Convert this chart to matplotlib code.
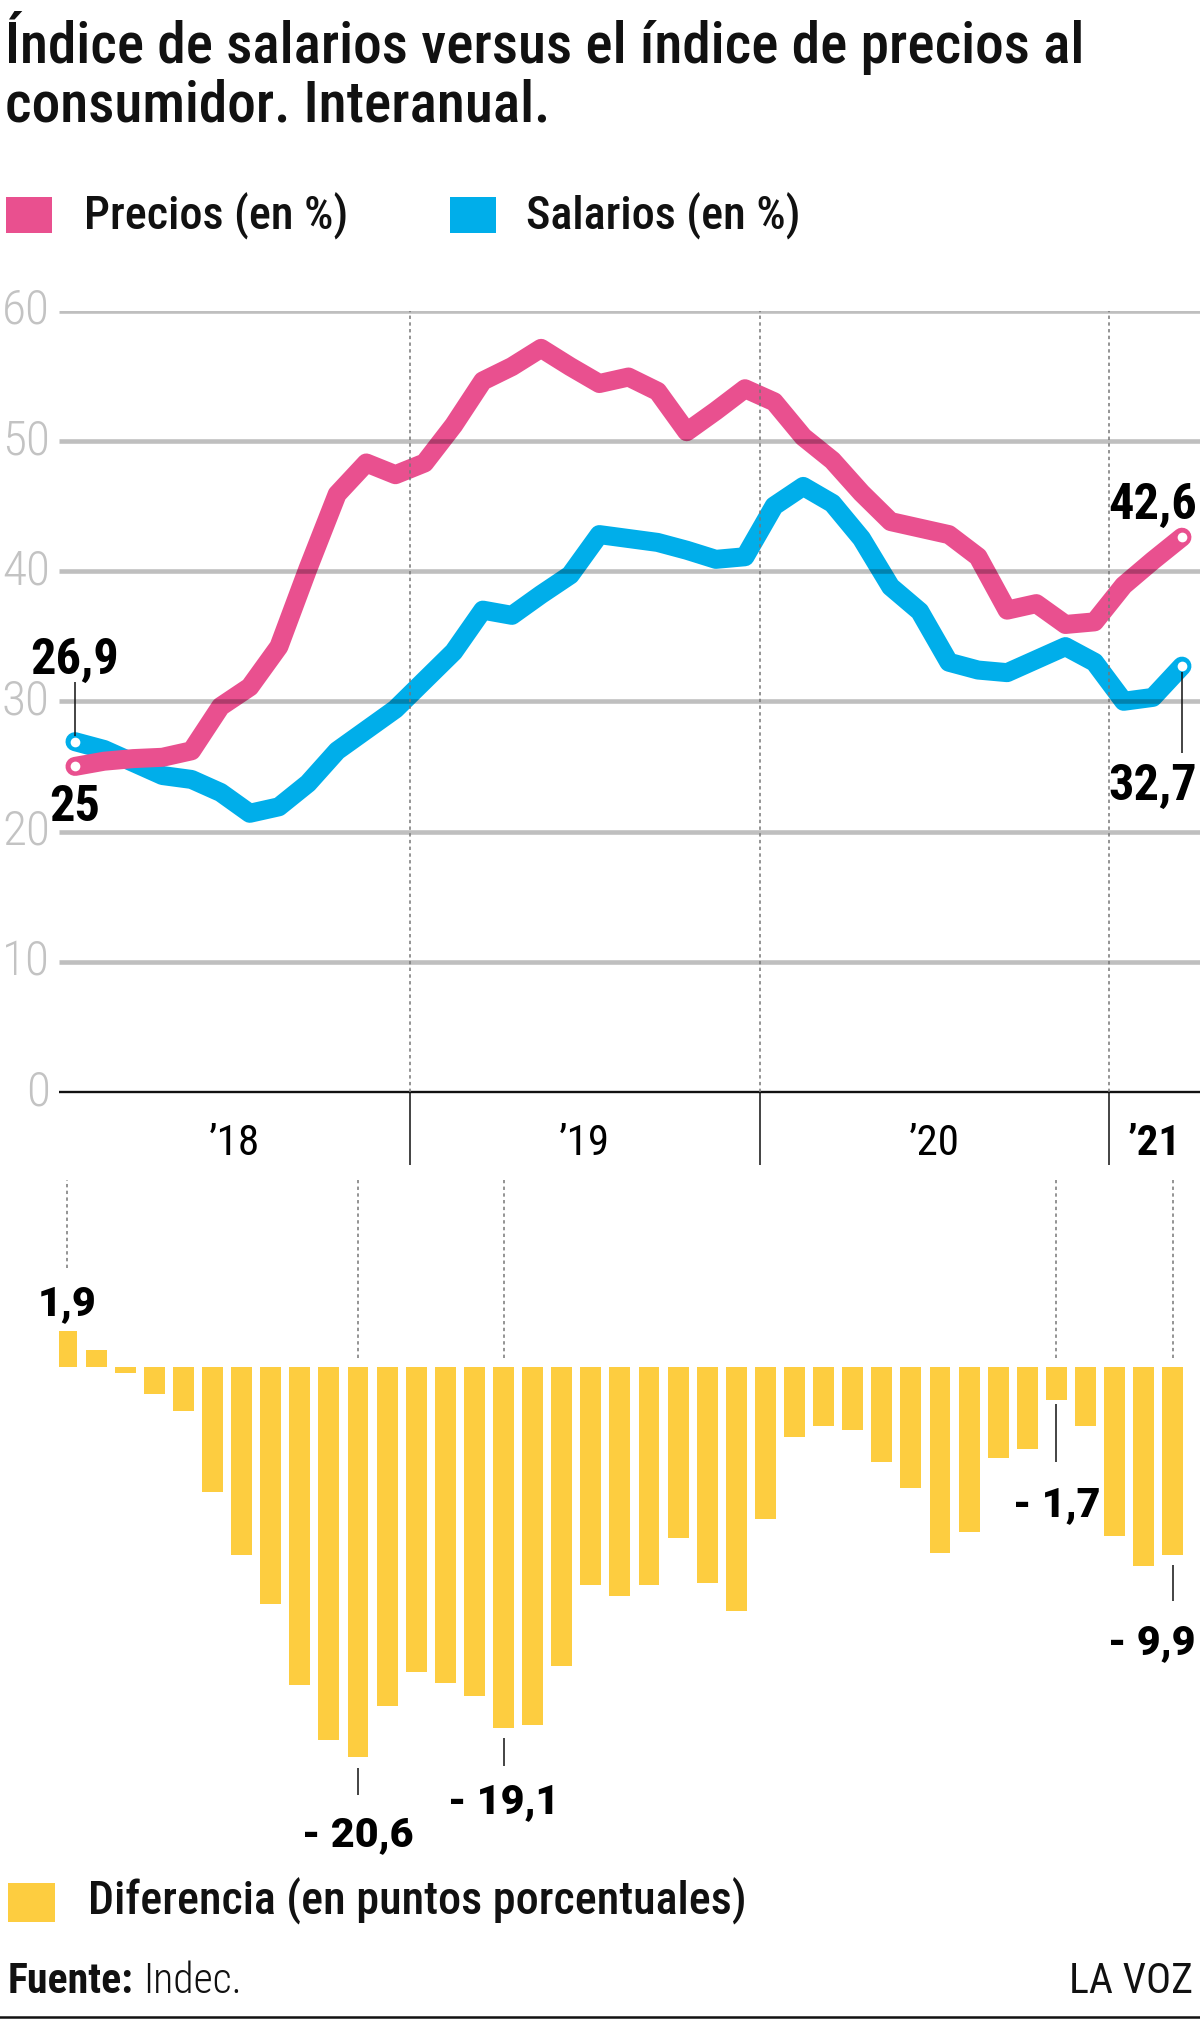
import os
import matplotlib
matplotlib.use("Agg")
import matplotlib.pyplot as plt
import matplotlib.font_manager as fm
from matplotlib.font_manager import FontProperties
from matplotlib.transforms import blended_transform_factory
from matplotlib.patches import Rectangle
from matplotlib.lines import Line2D

# ---------------- data ----------------
year_labels = ["\u201918", "\u201919", "\u201920", "\u201921"]
year_first_month = [0, 12, 24, 36]

precios = [25.0, 25.4, 25.6, 25.7, 26.2, 29.6, 31.1, 34.2, 40.2, 45.9,
           48.3, 47.4, 48.3, 51.2, 54.6, 55.7, 57.1, 55.7, 54.4, 54.9,
           53.8, 50.7, 52.3, 54.0, 53.0, 50.3, 48.5, 46.0, 43.8, 43.3,
           42.8, 41.1, 37.0, 37.5, 35.9, 36.1, 38.9, 40.8, 42.6]
salarios = [26.9, 26.3, 25.3, 24.3, 24.0, 23.0, 21.4, 21.9, 23.7, 26.2,
            27.8, 29.4, 31.6, 33.8, 37.0, 36.6, 38.2, 39.7, 42.8, 42.5,
            42.2, 41.6, 40.9, 41.1, 45.0, 46.5, 45.2, 42.5, 38.8, 36.9,
            33.0, 32.4, 32.2, 33.2, 34.2, 33.0, 30.0, 30.3, 32.7]
diferencia = [1.9, 0.9, -0.3, -1.4, -2.3, -6.6, -9.9, -12.5, -16.8, -19.7,
              -20.6, -17.9, -16.1, -16.7, -17.4, -19.1, -18.9, -15.8, -11.5, -12.1,
              -11.5, -9.0, -11.4, -12.9, -8.0, -3.7, -3.1, -3.3, -5.0, -6.4,
              -9.8, -8.7, -4.8, -4.3, -1.7, -3.1, -8.9, -10.5, -9.9]

ytick_values = [0, 10, 20, 30, 40, 50, 60]
ytick_labels = ["0", "10", "20", "30", "40", "50", "60"]

line_first_labels = ["26,9", "25"]
line_last_labels = ["42,6", "32,7"]
bar_label_idx = [0, 10, 15, 34, 38]
bar_label_txt = ["1,9", "- 20,6", "- 19,1", "- 1,7", "- 9,9"]

title_lines = ["\u00cdndice de salarios versus el \u00edndice de precios al",
               "consumidor. Interanual."]
legend_top = ["Precios (en %)", "Salarios (en %)"]
legend_bottom = "Diferencia (en puntos porcentuales)"
source_bold = "Fuente:"
source_light = "Indec."
brand = "LA VOZ"

PINK = "#E9508F"
BLUE = "#00AEEA"
YELLOW = "#FDCD40"
GRID = (0, 0, 0, 0.25)
TICKGRAY = "#C3C3C3"

# ---------------- fonts ----------------
FILES = {}
for f in fm.fontManager.ttflist:
    FILES.setdefault(os.path.basename(f.fname), f.fname)


def pick(cands, fam, weight):
    for c in cands:
        if c in FILES:
            return FontProperties(fname=FILES[c])
    return FontProperties(family=fam, weight=weight)


F_REG = pick(["RobotoCondensed-Regular.ttf", "NotoSans-Condensed.ttf",
              "LiberationSansNarrow-Regular.ttf", "DejaVuSansCondensed.ttf"], "Roboto", "normal")
F_MED = pick(["RobotoCondensed-Medium.ttf", "RobotoCondensed-Regular.ttf",
              "NotoSans-CondensedMedium.ttf", "NotoSans-Condensed.ttf",
              "DejaVuSansCondensed.ttf"], "Roboto", "medium")
F_LIGHT = pick(["RobotoCondensed-Light.ttf", "NotoSans-CondensedLight.ttf",
                "RobotoCondensed-Regular.ttf", "DejaVuSansCondensed.ttf"], "Roboto", "light")
F_BOLD = pick(["RobotoCondensed-Bold.ttf", "NotoSans-CondensedBold.ttf",
               "LiberationSansNarrow-Bold.ttf", "DejaVuSansCondensed-Bold.ttf"], "Roboto", "bold")
F_BLACK = pick(["Roboto-Black.ttf", "Roboto-Bold.ttf", "RobotoCondensed-Bold.ttf",
                "DejaVuSans-Bold.ttf"], "Roboto", "heavy")

# ---------------- figure ----------------
W, H = 1200, 2032
fig = plt.figure(figsize=(12, 20.32), dpi=100)
fig.patch.set_facecolor("white")
renderer = fig.canvas.get_renderer()


def fx(x):
    return x / W


def fy(y):
    return 1 - y / H


def fit_size(s, fp, width):
    p = fp.copy()
    p.set_size(20)
    t = fig.text(0, 0, s, fontproperties=p)
    w = t.get_window_extent(renderer).width
    t.remove()
    return 20 * width / w


def put(x, y, s, fp, size, ha="left", va="baseline", color="black", **kw):
    p = fp.copy()
    p.set_size(size)
    return fig.text(fx(x), fy(y), s, fontproperties=p, ha=ha, va=va, color=color, **kw)


def atext(ax, x, y, s, fp, size, ha="center", va="baseline", color="black", transform=None):
    p = fp.copy()
    p.set_size(size)
    return ax.text(x, y, s, fontproperties=p, ha=ha, va=va, color=color,
                   transform=transform if transform is not None else ax.transData,
                   clip_on=False, zorder=10)


# ---------------- title & top legend ----------------
ts = fit_size(title_lines[0], F_MED, 1080)
put(5, 63, title_lines[0], F_MED, ts, color="#111111")
put(5, 122, title_lines[1], F_MED, ts, color="#111111")

fig.add_artist(Rectangle((fx(6), fy(233)), 46 / W, 36 / H, transform=fig.transFigure,
                         facecolor=PINK, edgecolor="none"))
fig.add_artist(Rectangle((fx(450), fy(233)), 46 / W, 36 / H, transform=fig.transFigure,
                         facecolor=BLUE, edgecolor="none"))
ls = fit_size(legend_top[0], F_MED, 264)
put(84, 230, legend_top[0], F_MED, ls, color="#111111")
put(526, 230, legend_top[1], F_MED, ls, color="#111111")

# ---------------- line chart ----------------
n = len(precios)
x = list(range(n))
X0, DX = 75.0, 29.13           # pixel of first month, pixels per month
xl = ((59 - X0) / DX, (W - X0) / DX)
ax1 = fig.add_axes([fx(59), fy(1092), (W - 59) / W, (1092 - 310.6) / H])
ax1.set_xlim(*xl)
ax1.set_ylim(0, 60)
ax1.axis("off")
vpp = 60 / (1092 - 310.6)       # value per pixel

ax1.plot(x, salarios, color=BLUE, lw=13.7, solid_capstyle="round",
         solid_joinstyle="round", zorder=2, clip_on=False)
ax1.plot(x, precios, color=PINK, lw=13.7, solid_capstyle="round",
         solid_joinstyle="round", zorder=3, clip_on=False)
ax1.plot([x[0], x[-1]], [salarios[0], salarios[-1]], "o", ms=7.0, color="white",
         mec="none", zorder=4, clip_on=False)
ax1.plot([x[0], x[-1]], [precios[0], precios[-1]], "o", ms=7.0, color="white",
         mec="none", zorder=4, clip_on=False)

ax1.hlines(ytick_values[1:], xl[0], xl[1], color=GRID, lw=3.3, zorder=5)
ax1.hlines(0, xl[0], xl[1], color="#111111", lw=1.7, zorder=6, clip_on=False)

bounds = [m - 0.5 for m in year_first_month[1:]]
ax1.vlines(bounds, 0, 60, color="#777777", lw=1.1, linestyles=(0, (2.2, 2.2)), zorder=6)
ax1.vlines(bounds, -73 * vpp, 0, color="#111111", lw=1.1, zorder=6, clip_on=False)

ysz = fit_size("60", F_LIGHT, 48)
tb = blended_transform_factory(fig.transFigure, ax1.transData)
for v, s in zip(ytick_values, ytick_labels):
    atext(ax1, fx(50), v, s, F_LIGHT, ysz, ha="right", va="center", color=TICKGRAY, transform=tb)

yr_sz = 31
edges = [xl[0]] + bounds + [xl[1]]
for k, lab in enumerate(year_labels):
    cx = (edges[k] + edges[k + 1]) / 2
    atext(ax1, cx, -63 * vpp, lab, F_BOLD if k == len(year_labels) - 1 else F_REG, yr_sz)

lab_sz = fit_size(line_first_labels[0], F_BOLD, 89)
atext(ax1, x[0], salarios[0] + 5.2, line_first_labels[0], F_BOLD, lab_sz)
ax1.vlines(x[0], salarios[0] + 0.45, salarios[0] + 4.6, color="#111111", lw=1.1, zorder=7)
atext(ax1, x[0], precios[0] - 4.2, line_first_labels[1], F_BOLD, lab_sz)
atext(ax1, x[-1] + 0.5, precios[-1] + 1.4, line_last_labels[0], F_BOLD, lab_sz, ha="right")
atext(ax1, x[-1] - 1.0, salarios[-1] - 10.3, line_last_labels[1], F_BOLD, lab_sz)
ax1.vlines(x[-1], salarios[-1] - 0.45, salarios[-1] - 6.7, color="#111111", lw=1.1, zorder=7)

# ---------------- bar chart ----------------
B0, BDX = 67.0, 29.1
Z0, PPU = 1367.4, 18.9          # zero line pixel, pixels per unit
AT, AB = 1170, 1860
ax2 = fig.add_axes([fx(59), fy(AB), (W - 59) / W, (AB - AT) / H])
ax2.set_xlim((59 - B0) / BDX, (W - B0) / BDX)
ax2.set_ylim(-(AB - Z0) / PPU, (Z0 - AT) / PPU)
ax2.axis("off")
ax2.bar(range(len(diferencia)), diferencia, width=0.72, color=YELLOW, zorder=2)

bsz = fit_size(bar_label_txt[1], F_BLACK, 111)
top = (Z0 - 1180) / PPU
for j, s in zip(bar_label_idx, bar_label_txt):
    d = diferencia[j]
    if d >= 0:
        ax2.vlines(j, d + 3.35, top, color="#777777", lw=1.1, linestyles=(0, (2.2, 2.2)))
        atext(ax2, j, d + 0.87, s, F_BLACK, bsz)
    else:
        ax2.vlines(j, 0.5, top, color="#777777", lw=1.1, linestyles=(0, (2.2, 2.2)))
        off = {10: (0.6, 2.0, 4.73, 0.0), 15: (0.5, 2.0, 4.47, 0.0),
               34: (0.26, 3.33, 6.16, 0.0), 38: (0.55, 2.47, 5.29, -0.72)}[j]
        ax2.vlines(j, d - off[0], d - off[1], color="#111111", lw=1.1)
        atext(ax2, j + off[3], d - off[2], s, F_BLACK, bsz)

# ---------------- bottom legend & source ----------------
fig.add_artist(Rectangle((fx(8), fy(1922)), 47 / W, 39 / H, transform=fig.transFigure,
                         facecolor=YELLOW, edgecolor="none"))
put(88, 1915, legend_bottom, F_MED, fit_size(legend_bottom, F_MED, 658), color="#111111")

ssz = fit_size(source_bold, F_BOLD, 125)
put(8, 1993, source_bold, F_BOLD, ssz, color="#111111")
put(143, 1993, source_light, F_LIGHT, ssz, color="#111111")
put(1193, 1993, brand, F_REG, ssz, ha="right", color="#111111")
fig.add_artist(Line2D([0, 1], [fy(2017), fy(2017)], color="#111111", lw=1.8,
                      transform=fig.transFigure))

fig.savefig("out.png", dpi=100, facecolor="white")
